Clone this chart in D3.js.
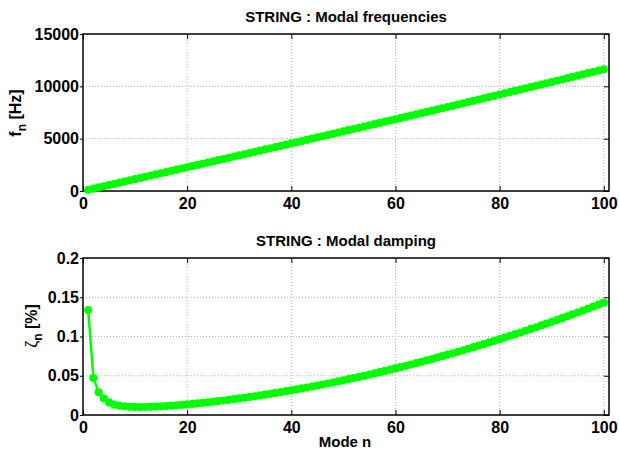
<!DOCTYPE html>
<html>
<head>
<meta charset="utf-8">
<script src="https://cdn.jsdelivr.net/npm/d3@7"></script>
<style>
    body { margin: 0; background: #fff; }
    svg { display: block; font-family: "Liberation Sans", Arial, sans-serif; }
    .tick text { font-size: 16px; font-weight: bold; fill: #000; }
    .tick line { stroke: #000; stroke-width: 1; }
    .grid line { stroke: #b4b4b4; stroke-width: 1; stroke-dasharray: 1,2; }
</style>
</head>
<body>
<svg id="chart"></svg>
<script>
"use strict";

// Chart size
const width = 619;
const height = 450;

// Data
const modes = d3.range(1, 101);
const freqHz = [
    113, 226, 339, 452, 565, 678, 791, 904, 1017, 1130,
    1243, 1357, 1470, 1583, 1696, 1809, 1923, 2036, 2149, 2263,
    2376, 2490, 2603, 2717, 2830, 2944, 3058, 3171, 3285, 3399,
    3513, 3627, 3741, 3855, 3969, 4084, 4198, 4312, 4427, 4541,
    4656, 4771, 4885, 5000, 5115, 5230, 5346, 5461, 5576, 5692,
    5807, 5923, 6039, 6154, 6270, 6387, 6503, 6619, 6735, 6852,
    6969, 7085, 7202, 7319, 7437, 7554, 7671, 7789, 7906, 8024,
    8142, 8260, 8379, 8497, 8616, 8734, 8853, 8972, 9091, 9211,
    9330, 9450, 9569, 9689, 9810, 9930, 10050, 10171, 10292, 10413,
    10534, 10655, 10777, 10899, 11021, 11143, 11265, 11387, 11510, 11633
];
const dampPct = [
    0.1337, 0.0470, 0.0290, 0.0210, 0.0160, 0.0133, 0.0118, 0.0110, 0.0105, 0.0103,
    0.0102, 0.0102, 0.0104, 0.0107, 0.0110, 0.0114, 0.0119, 0.0124, 0.0129, 0.0135,
    0.0141, 0.0148, 0.0155, 0.0162, 0.0169, 0.0177, 0.0185, 0.0193, 0.0202, 0.0211,
    0.0220, 0.0230, 0.0239, 0.0249, 0.0259, 0.0270, 0.0281, 0.0292, 0.0303, 0.0314,
    0.0326, 0.0338, 0.0350, 0.0362, 0.0375, 0.0388, 0.0401, 0.0414, 0.0428, 0.0442,
    0.0456, 0.0470, 0.0485, 0.0499, 0.0514, 0.0530, 0.0545, 0.0561, 0.0577, 0.0593,
    0.0609, 0.0626, 0.0643, 0.0660, 0.0677, 0.0695, 0.0713, 0.0731, 0.0749, 0.0768,
    0.0786, 0.0805, 0.0825, 0.0844, 0.0864, 0.0884, 0.0904, 0.0924, 0.0945, 0.0966,
    0.0987, 0.1008, 0.1030, 0.1051, 0.1073, 0.1096, 0.1118, 0.1141, 0.1164, 0.1187,
    0.1210, 0.1234, 0.1258, 0.1282, 0.1306, 0.1331, 0.1356, 0.1381, 0.1406, 0.1431
];
const xTicks = [0, 20, 40, 60, 80, 100];
const freqTicks = [0, 5000, 10000, 15000];
const dampTicks = [0, 0.05, 0.1, 0.15, 0.2];

const svg = d3.select("#chart")
    .attr("width", width)
    .attr("height", height);

svg.append("rect").attr("width", width).attr("height", height).attr("fill", "#fff");

// one subplot, MATLAB style
function drawPanel(opt) {
    const x = d3.scaleLinear().domain([0, 101]).range([opt.left, opt.right]);
    const y = d3.scaleLinear().domain(opt.yDomain).range([opt.bottom, opt.top]);
    const g = svg.append("g");

    // dotted grid
    const grid = g.append("g").attr("class", "grid");
    grid.selectAll(".gx").data(xTicks.filter(t => t > 0 && t < 101)).enter()
        .append("line")
        .attr("x1", d => x(d)).attr("x2", d => x(d))
        .attr("y1", opt.top).attr("y2", opt.bottom);
    grid.selectAll(".gy").data(opt.yTicks.filter((t, i) => i > 0 && i < opt.yTicks.length - 1)).enter()
        .append("line")
        .attr("x1", opt.left).attr("x2", opt.right)
        .attr("y1", d => y(d)).attr("y2", d => y(d));

    // axes
    const xb = g.append("g")
        .attr("transform", `translate(0,${opt.bottom})`)
        .call(d3.axisBottom(x).tickValues(xTicks).tickSizeInner(-5).tickSizeOuter(0).tickPadding(6));
    xb.selectAll("text").attr("dy", "0.72em");

    g.append("g")
        .attr("transform", `translate(0,${opt.top})`)
        .call(d3.axisTop(x).tickValues(xTicks).tickSizeInner(-5).tickSizeOuter(0).tickFormat(""));

    g.append("g")
        .attr("transform", `translate(${opt.left},0)`)
        .call(d3.axisLeft(y).tickValues(opt.yTicks).tickSizeInner(3).tickSizeOuter(0).tickPadding(1).tickFormat(opt.fmt));

    g.append("g")
        .attr("transform", `translate(${opt.right},0)`)
        .call(d3.axisRight(y).tickValues(opt.yTicks).tickSizeInner(-5).tickSizeOuter(0).tickFormat(""));

    g.selectAll(".domain").remove();

    // box
    g.append("rect")
        .attr("x", opt.left).attr("y", opt.top)
        .attr("width", opt.right - opt.left).attr("height", opt.bottom - opt.top)
        .attr("fill", "none").attr("stroke", "#000").attr("stroke-width", 1.5);

    // data line + markers
    const pts = modes.map((n, i) => [n, opt.values[i]]);
    const line = d3.line().x(d => x(d[0])).y(d => y(d[1]));
    g.append("path")
        .datum(pts)
        .attr("d", line)
        .attr("fill", "none")
        .attr("stroke", "#00ff00")
        .attr("stroke-width", 2.5);
    g.selectAll(".pt").data(pts).enter()
        .append("circle")
        .attr("cx", d => x(d[0]))
        .attr("cy", d => y(d[1]))
        .attr("r", 4.1)
        .attr("fill", "#00ff00");

    // title
    svg.append("text")
        .attr("x", (opt.left + opt.right) / 2)
        .attr("y", opt.titleY)
        .attr("text-anchor", "middle")
        .style("font-size", "15px")
        .style("font-weight", "bold")
        .text(opt.title);

    // y label
    const yl = svg.append("text")
        .attr("transform", `translate(${opt.ylabelX},${opt.ylabelY}) rotate(-90)`)
        .attr("text-anchor", "middle")
        .style("font-size", "16px")
        .style("font-weight", "bold");
    yl.append("tspan").style("font-weight", opt.symWeight).text(opt.ylabel[0]);
    yl.append("tspan").attr("dy", 5).style("font-size", "12px").text("n");
    yl.append("tspan").attr("dy", -5).text(" " + opt.ylabel[1]);
}

drawPanel({
    left: 83, right: 609, top: 34, bottom: 191,
    yDomain: [0, 15000], yTicks: freqTicks, fmt: d3.format("d"),
    values: freqHz,
    title: "STRING : Modal frequencies", titleY: 22,
    ylabel: ["f", "[Hz]"], ylabelX: 21, ylabelY: 113, symWeight: "bold"
});

drawPanel({
    left: 83, right: 609, top: 258, bottom: 415,
    yDomain: [0, 0.2], yTicks: dampTicks, fmt: d => d === 0 ? "0" : String(d),
    values: dampPct,
    title: "STRING : Modal damping", titleY: 246,
    ylabel: ["\u03B6", "[%]"], ylabelX: 37, ylabelY: 326, symWeight: "normal"
});

// x label
svg.append("text")
    .attr("x", 345)
    .attr("y", 447)
    .attr("text-anchor", "middle")
    .style("font-size", "15px")
    .style("font-weight", "bold")
    .text("Mode n");
</script>
</body>
</html>
